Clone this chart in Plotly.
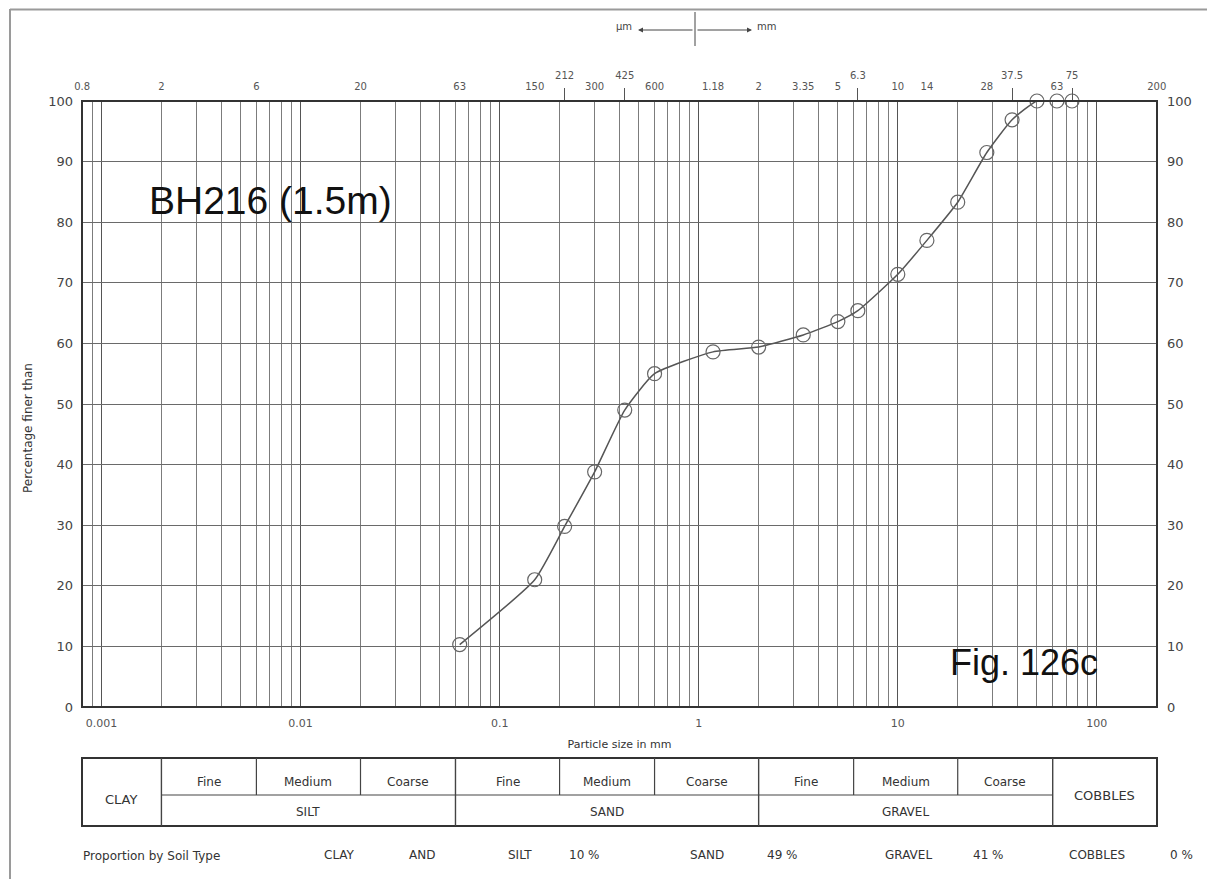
import numpy as np
import plotly.graph_objects as go

# ---------------- data ----------------
sizes_mm = [0.063, 0.15, 0.212, 0.3, 0.425, 0.6, 1.18, 2, 3.35, 5, 6.3,
            10, 14, 20, 28, 37.5, 50, 63, 75]
pct_finer = [10.3, 21.0, 29.8, 38.8, 49.0, 55.0, 58.6, 59.4, 61.4, 63.6, 65.4,
             71.4, 77.0, 83.3, 91.5, 96.9, 100, 100, 100]

bottom_tick_vals = [0.001, 0.01, 0.1, 1, 10, 100]
bottom_tick_text = ["0.001", "0.01", "0.1", "1", "10", "100"]

top_tick_vals = [0.0008, 0.002, 0.006, 0.02, 0.063, 0.15, 0.3, 0.6, 1.18, 2,
                 3.35, 5, 10, 14, 28, 63, 200]
top_tick_text = ["0.8", "2", "6", "20", "63", "150", "300", "600", "1.18", "2",
                 "3.35", "5", "10", "14", "28", "63", "200"]
raised_tick_vals = [0.212, 0.425, 6.3, 37.5, 75]
raised_tick_text = ["212", "425", "6.3", "37.5", "75"]

y_ticks = list(range(0, 101, 10))

fraction_bounds = [0.0008, 0.002, 0.006, 0.02, 0.06, 0.2, 0.6, 2, 6, 20, 60, 200]
full_dividers = [0.002, 0.06, 2, 60]
half_dividers = [0.006, 0.02, 0.2, 0.6, 6, 20]
sub_labels = ["Fine", "Medium", "Coarse"] * 3
main_labels = ["SILT", "SAND", "GRAVEL"]
main_spans = [(0.002, 0.06), (0.06, 2), (2, 60)]

prop_texts = ["CLAY", "AND", "SILT", "10 %", "SAND", "49 %", "GRAVEL", "41 %", "COBBLES", "0 %"]
prop_xpix = [339, 422, 520, 584, 707, 782, 908, 988, 1097, 1181]

# ---------------- layout geometry (page pixel coordinates) ----------------
OFF = 8  # default body margin of the html page
W, H = 1215, 879
L, R, T, B = 82, 1157, 101, 707
x_range = [np.log10(0.0008) - 0.001, np.log10(200) + 0.001]


def py(p):
    return (B - p) / (B - T)


def px(p):
    return (p - L) / (R - L)


GRID_MINOR = [m * 10.0 ** e for e in range(-4, 3) for m in range(2, 10)
              if 0.00079 < m * 10.0 ** e < 200] + [0.0009]

fig = go.Figure()

fig.add_trace(go.Scatter(
    x=sizes_mm, y=pct_finer, mode="lines+markers",
    line=dict(color="#555555", width=1.5, shape="spline", smoothing=0.5),
    marker=dict(symbol="circle-open", size=14, color="#666666",
                line=dict(color="#666666", width=1.2)),
    cliponaxis=False, showlegend=False, hoverinfo="x+y"))

# invisible helper traces so the extra axes render
fig.add_trace(go.Scatter(x=top_tick_vals, y=[0] * len(top_tick_vals), xaxis="x2", yaxis="y",
                         mode="markers", marker=dict(opacity=0), showlegend=False, hoverinfo="skip"))
fig.add_trace(go.Scatter(x=raised_tick_vals, y=[0] * len(raised_tick_vals), xaxis="x3", yaxis="y",
                         mode="markers", marker=dict(opacity=0), showlegend=False, hoverinfo="skip"))
fig.add_trace(go.Scatter(x=[1], y=[50], xaxis="x", yaxis="y2",
                         mode="markers", marker=dict(opacity=0), showlegend=False, hoverinfo="skip"))

tf = "Liberation Sans, Arial, sans-serif"
df = "DejaVu Sans, Verdana, sans-serif"
tick_font = dict(family=df, size=13, color="#444444")
small_font = dict(family=df, size=10, color="#555555")
TXT = "#333333"

fig.update_layout(
    width=W - OFF, height=H - OFF, autosize=False,
    margin=dict(l=L - OFF, r=W - R, t=T - OFF, b=H - B, pad=0),
    paper_bgcolor="white", plot_bgcolor="white",
    showlegend=False,
    xaxis=dict(type="log", range=x_range, tickmode="array",
               tickvals=bottom_tick_vals, ticktext=bottom_tick_text,
               tickfont=dict(family=df, size=11, color="#555555"),
               ticks="", ticklabelstandoff=8,
               showgrid=True, gridcolor="#555555", gridwidth=1.3,
               minor=dict(tickmode="array", tickvals=GRID_MINOR, showgrid=True,
                          gridcolor="#7c7c7c", gridwidth=1, ticks=""),
               showline=False, zeroline=False,
               title=dict(text="Particle size in mm", standoff=11,
                          font=dict(family=df, size=11, color=TXT))),
    xaxis2=dict(type="log", range=x_range, overlaying="x", side="top", anchor="y",
                tickmode="array", tickvals=top_tick_vals, ticktext=top_tick_text,
                tickfont=small_font, ticks="", ticklabelstandoff=8,
                showgrid=False, showline=False, zeroline=False),
    xaxis3=dict(type="log", range=x_range, overlaying="x", side="top", anchor="y",
                tickmode="array", tickvals=raised_tick_vals, ticktext=raised_tick_text,
                tickfont=small_font, ticks="outside", ticklen=12, tickwidth=1.2,
                tickcolor="#555555", ticklabelstandoff=5,
                showgrid=False, showline=False, zeroline=False),
    yaxis=dict(range=[0, 100], tickmode="array", tickvals=y_ticks,
               tickfont=tick_font, ticks="", ticklabelstandoff=8,
               showgrid=True, gridcolor="#6a6a6a", gridwidth=1.4,
               showline=False, zeroline=False),
    yaxis2=dict(range=[0, 100], overlaying="y", side="right", anchor="x",
                tickmode="array", tickvals=y_ticks, tickfont=tick_font,
                ticks="", ticklabelstandoff=9, showgrid=False,
                showline=False, zeroline=False),
)

shapes = []
# plot border
shapes.append(dict(type="rect", xref="paper", yref="paper", x0=0, x1=1, y0=0, y1=1,
                   line=dict(color="#333333", width=2), layer="above"))
# outer page frame
shapes.append(dict(type="line", xref="paper", yref="paper", x0=px(10), x1=px(10), y0=py(9), y1=py(H + 5),
                   line=dict(color="#9a9a9a", width=2)))
shapes.append(dict(type="line", xref="paper", yref="paper", x0=px(10), x1=px(W + 5), y0=py(9.5), y1=py(9.5),
                   line=dict(color="#9a9a9a", width=2)))

# classification table (shape x on log axis given in data units)
t_top, t_mid, t_bot = py(758), py(795), py(826)
shapes.append(dict(type="rect", xref="paper", yref="paper", x0=0, x1=1, y0=t_bot, y1=t_top,
                   line=dict(color="#333333", width=2)))
shapes.append(dict(type="line", xref="x", yref="paper",
                   x0=full_dividers[0], x1=full_dividers[-1], y0=t_mid, y1=t_mid,
                   line=dict(color="#444444", width=1.2)))
for v in full_dividers:
    shapes.append(dict(type="line", xref="x", yref="paper", x0=v, x1=v,
                       y0=t_bot, y1=t_top, line=dict(color="#444444", width=1.4)))
for v in half_dividers:
    shapes.append(dict(type="line", xref="x", yref="paper", x0=v, x1=v,
                       y0=t_mid, y1=t_top, line=dict(color="#444444", width=1.2)))

# arrow marker at top
shapes.append(dict(type="line", xref="paper", yref="paper", x0=px(695), x1=px(695), y0=py(12), y1=py(46),
                   line=dict(color="#444444", width=1)))
fig.update_layout(shapes=shapes)

ann = []
C = dict(xanchor="center", yanchor="middle", showarrow=False)
# y-axis title
ann.append(dict(xref="paper", yref="paper", x=px(28), y=py(428), textangle=-90,
                text="Percentage finer than", font=dict(family=df, size=12, color=TXT), **C))
# sub-fraction labels (annotation x on log axis given as log10)
for i, lab in enumerate(sub_labels):
    lo, hi = fraction_bounds[i + 1], fraction_bounds[i + 2]
    ann.append(dict(xref="x", yref="paper", x=(np.log10(lo) + np.log10(hi)) / 2, y=py(782),
                    text=lab, font=dict(family=df, size=12, color=TXT), **C))
for lab, (lo, hi) in zip(main_labels, main_spans):
    ann.append(dict(xref="x", yref="paper", x=(np.log10(lo) + np.log10(hi)) / 2, y=py(812),
                    text=lab, font=dict(family=df, size=12, color=TXT), **C))
ann.append(dict(xref="x", yref="paper", x=(np.log10(0.0008) + np.log10(0.002)) / 2, y=py(799),
                text="CLAY", font=dict(family=df, size=13, color=TXT), **C))
ann.append(dict(xref="x", yref="paper", x=(np.log10(60) + np.log10(200)) / 2, y=py(795),
                text="COBBLES", font=dict(family=df, size=13, color=TXT), **C))

# proportion line
ann.append(dict(xref="paper", yref="paper", x=px(81), y=py(856), xanchor="left", yanchor="middle",
                text="Proportion by Soil Type", showarrow=False,
                font=dict(family=df, size=12, color=TXT)))
for t, xp in zip(prop_texts, prop_xpix):
    ann.append(dict(xref="paper", yref="paper", x=px(xp), y=py(855), text=t,
                    font=dict(family=df, size=12, color=TXT), **C))

# big labels
ann.append(dict(xref="paper", yref="paper", x=px(147), y=py(200), xanchor="left", yanchor="middle",
                text="BH216 (1.5m)", showarrow=False, font=dict(family=tf, size=39, color="#111111")))
ann.append(dict(xref="paper", yref="paper", x=px(1024), y=py(662),
                text="Fig. 126c", font=dict(family=tf, size=36, color="#111111"), **C))

# µm <-|-> mm
ann.append(dict(xref="paper", yref="paper", x=px(634), y=py(27), xanchor="right", yanchor="middle",
                text="μm", showarrow=False, font=dict(family=df, size=10, color="#444444")))
ann.append(dict(xref="paper", yref="paper", x=px(755), y=py(27), xanchor="left", yanchor="middle",
                text="mm", showarrow=False, font=dict(family=df, size=10, color="#444444")))
ann.append(dict(xref="paper", yref="paper", x=px(638), y=py(30), text="", showarrow=True,
                ax=56, ay=0, arrowhead=2, arrowsize=1, arrowwidth=1, arrowcolor="#444444"))
ann.append(dict(xref="paper", yref="paper", x=px(752), y=py(30), text="", showarrow=True,
                ax=-56, ay=0, arrowhead=2, arrowsize=1, arrowwidth=1, arrowcolor="#444444"))

fig.update_layout(annotations=ann)

fig.write_html("out.html")
